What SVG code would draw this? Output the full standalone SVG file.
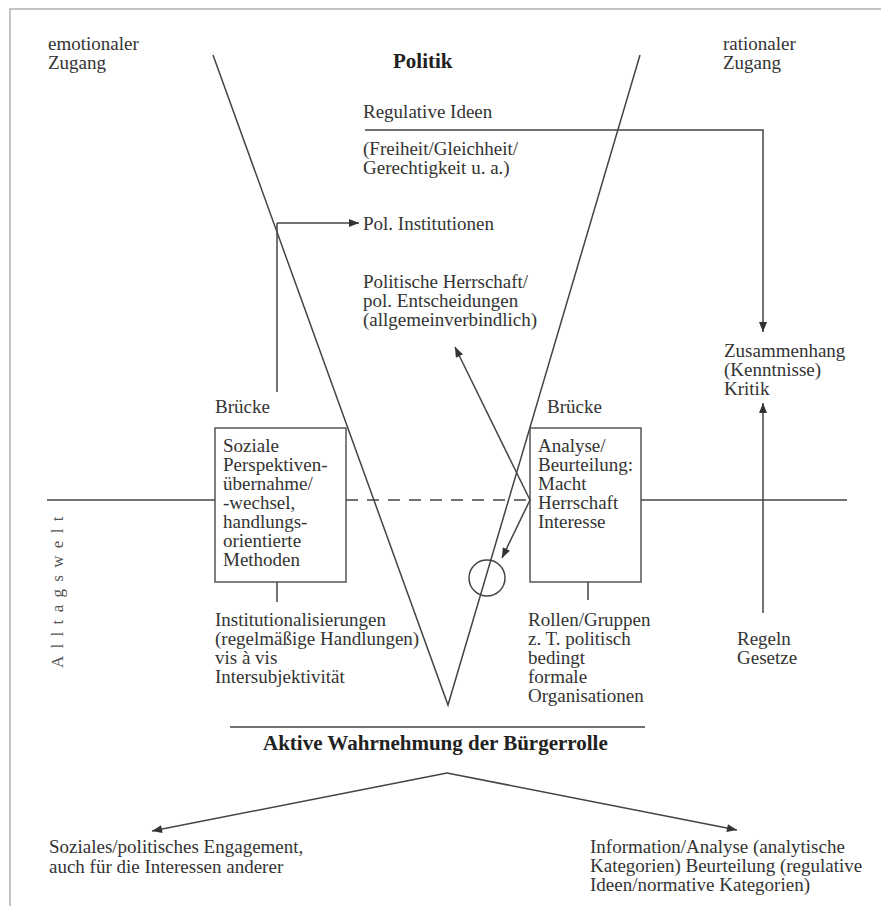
<svg xmlns="http://www.w3.org/2000/svg" width="881" height="906" viewBox="0 0 881 906">
<style>
  text { font-family: "Liberation Serif", "Times New Roman", serif; font-size: 19px; fill: #333; }
  .b { font-weight: bold; font-size: 21px; fill: #222; }
  .ln { stroke: #444; stroke-width: 1.5; fill: none; }
  .dash { stroke: #444; stroke-width: 1.5; fill: none; stroke-dasharray: 12 9; }
  .box { stroke: #555; stroke-width: 1.5; fill: none; }
  .frame { stroke: #c4c4c4; stroke-width: 2; fill: none; }
</style>
<defs>
  <marker id="ah" viewBox="0 0 10 8" refX="10" refY="4" markerWidth="11" markerHeight="8" markerUnits="userSpaceOnUse" orient="auto">
    <path d="M0,0 L10,4 L0,8 z" fill="#333"/>
  </marker>
</defs>
<rect width="881" height="906" fill="#fff"/>
<path class="frame" d="M10,906 V9 H881"/>

<g id="headers">
  <text x="48" y="50">emotionaler</text>
  <text x="48" y="69">Zugang</text>
  <text x="723" y="50">rationaler</text>
  <text x="723" y="69">Zugang</text>
  <text class="b" x="393" y="68">Politik</text>
</g>

<g id="alltagswelt">
  <text transform="translate(63,668) rotate(-90)" style="font-size:17px; letter-spacing:7.3px; fill:#555">Alltagswelt</text>
</g>

<g id="regulative">
  <text x="363" y="118">Regulative Ideen</text>
  <text x="363" y="155">(Freiheit/Gleichheit/</text>
  <text x="363" y="174">Gerechtigkeit u. a.)</text>
</g>

<g id="institutionen">
  <text x="363" y="230">Pol. Institutionen</text>
</g>

<g id="herrschaft">
  <text x="363" y="288">Politische Herrschaft/</text>
  <text x="363" y="307">pol. Entscheidungen</text>
  <text x="363" y="326">(allgemeinverbindlich)</text>
</g>

<g id="zusammenhang">
  <text x="724" y="357">Zusammenhang</text>
  <text x="724" y="376">(Kenntnisse)</text>
  <text x="724" y="395">Kritik</text>
</g>

<g id="bruecke-links">
  <text x="215" y="413">Brücke</text>
  <rect class="box" x="215" y="428" width="131" height="154"/>
  <text x="223" y="452">Soziale</text>
  <text x="223" y="471">Perspektiven-</text>
  <text x="223" y="490">übernahme/</text>
  <text x="223" y="509">-wechsel,</text>
  <text x="223" y="528">handlungs-</text>
  <text x="223" y="547">orientierte</text>
  <text x="223" y="566">Methoden</text>
</g>

<g id="bruecke-rechts">
  <text x="547" y="413">Brücke</text>
  <rect class="box" x="530" y="428" width="111" height="154"/>
  <text x="538" y="452">Analyse/</text>
  <text x="538" y="471">Beurteilung:</text>
  <text x="538" y="490">Macht</text>
  <text x="538" y="509">Herrschaft</text>
  <text x="538" y="528">Interesse</text>
</g>

<g id="institutionalisierungen">
  <text x="215" y="626">Institutionalisierungen</text>
  <text x="215" y="645">(regelmäßige Handlungen)</text>
  <text x="215" y="664">vis à vis</text>
  <text x="215" y="683">Intersubjektivität</text>
</g>

<g id="rollen">
  <text x="528" y="626">Rollen/Gruppen</text>
  <text x="528" y="645">z. T. politisch</text>
  <text x="528" y="664">bedingt</text>
  <text x="528" y="683">formale</text>
  <text x="528" y="702">Organisationen</text>
</g>

<g id="regeln">
  <text x="737" y="645">Regeln</text>
  <text x="737" y="664">Gesetze</text>
</g>

<g id="buergerrolle">
  <text class="b" x="263" y="750">Aktive Wahrnehmung der Bürgerrolle</text>
</g>

<g id="engagement">
  <text x="49" y="853">Soziales/politisches Engagement,</text>
  <text x="49" y="873">auch für die Interessen anderer</text>
</g>

<g id="information">
  <text x="590" y="853">Information/Analyse (analytische</text>
  <text x="590" y="872">Kategorien) Beurteilung (regulative</text>
  <text x="590" y="891">Ideen/normative Kategorien)</text>
</g>

<g id="connectors">
  <!-- V shape -->
  <path class="ln" d="M213,55 L448,705 L640,55"/>
  <!-- regulative ideas bracket -->
  <path class="ln" d="M365,130 H763 V332" marker-end="url(#ah)"/>
  <!-- Regeln up to Zusammenhang -->
  <path class="ln" d="M763,613 V403" marker-end="url(#ah)"/>
  <!-- Pol. Institutionen -->
  <path class="ln" d="M277,223 H359" marker-end="url(#ah)"/>
  <path class="ln" d="M277,223 V392"/>
  <!-- Alltagswelt line -->
  <path class="ln" d="M47,500 H215"/>
  <path class="dash" d="M346,500 H530"/>
  <path class="ln" d="M641,500 H847"/>
  <!-- arrows from right box -->
  <path class="ln" d="M530,500 L455,347" marker-end="url(#ah)"/>
  <path class="ln" d="M530,500 L502,558" marker-end="url(#ah)"/>
  <circle class="ln" cx="487" cy="578" r="18"/>
  <!-- ticks below boxes -->
  <path class="ln" d="M277,582 V602"/>
  <path class="ln" d="M588,582 V600"/>
  <!-- baseline -->
  <path class="ln" d="M230,727 H645"/>
  <!-- bottom arrows -->
  <path class="ln" d="M447,773 L152,831" marker-end="url(#ah)"/>
  <path class="ln" d="M447,773 L737,830" marker-end="url(#ah)"/>
</g>
</svg>
